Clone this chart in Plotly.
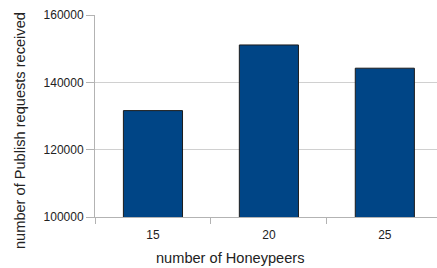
import plotly.graph_objects as go

categories = ["15", "20", "25"]
values = [131600, 151100, 144200]
y_ticks = [100000, 120000, 140000, 160000]
x_title = "number of Honeypeers"
y_title = "number of Publish requests received"

fig = go.Figure(go.Bar(
    x=categories, y=values,
    marker=dict(color="#004586", line=dict(color="#1c1c1c", width=1)),
    width=0.51,
))

tick_font = dict(family="Liberation Sans, Arial, sans-serif", size=12, color="#222222")
title_font = dict(family="Liberation Sans, Arial, sans-serif", size=14.6, color="#222222")
fig.update_layout(
    width=437, height=268,
    margin=dict(l=95, r=0, t=15, b=51),
    paper_bgcolor="white", plot_bgcolor="white",
    font=tick_font, showlegend=False,
)
fig.update_xaxes(
    type="category", range=[-0.5, 2.45], automargin=False,
    tickson="boundaries", ticks="outside", ticklen=6, tickcolor="#b3b3b3",
    ticklabelstandoff=7,
    showgrid=False, showline=True, linecolor="#b3b3b3", linewidth=1,
    tickfont=tick_font,
)
fig.update_yaxes(
    range=[100000, 160000], tickvals=y_ticks, ticktext=[str(v) for v in y_ticks],
    automargin=False,
    ticks="outside", ticklen=8, tickcolor="#b3b3b3",
    showgrid=True, gridcolor="#d0d0d0", gridwidth=1,
    showline=True, linecolor="#b3b3b3", linewidth=1,
    zeroline=False,
    tickfont=tick_font,
)
# axis titles as annotations (positioned as in the reference)
fig.add_annotation(
    text=y_title, textangle=-90, showarrow=False,
    xref="paper", yref="paper", x=(20 - 95) / 342, y=(217 - 131) / 202,
    xanchor="center", yanchor="middle", font=title_font,
)
fig.add_annotation(
    text=x_title, showarrow=False,
    xref="paper", yref="paper", x=(230 - 95) / 342, y=(217 - 258) / 202,
    xanchor="center", yanchor="middle", font=title_font,
)
fig.write_html(
    "out.html",
    config={"displayModeBar": False},
    post_script="document.body.style.margin='0';document.body.style.overflow='hidden';",
)
